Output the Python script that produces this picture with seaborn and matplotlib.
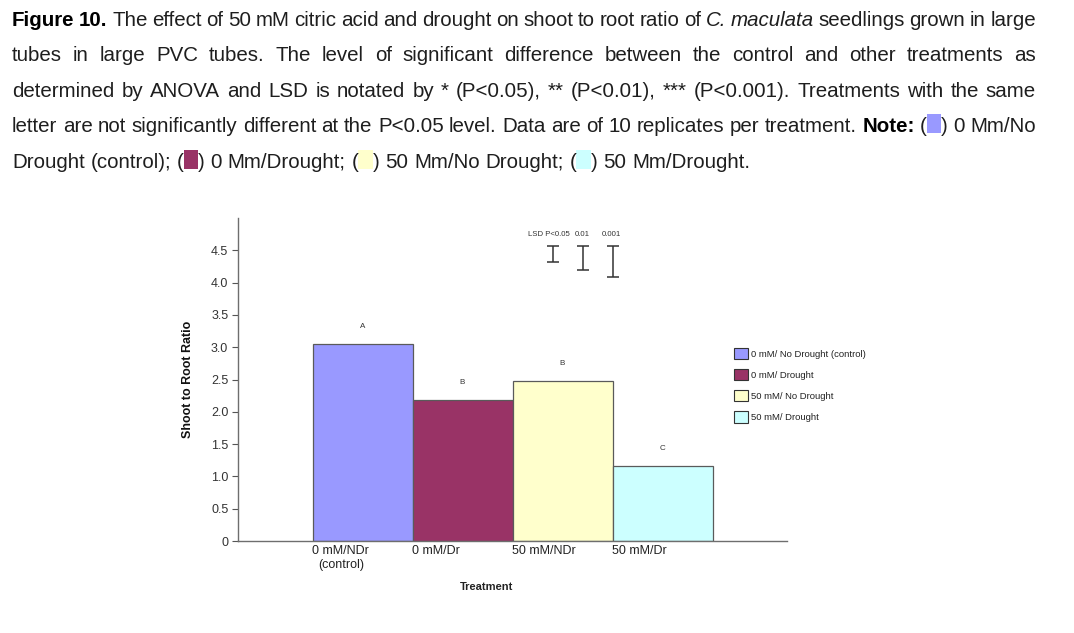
import matplotlib
matplotlib.use("Agg")
import matplotlib.pyplot as plt
import seaborn as sns
import pandas as pd
from matplotlib.patches import Patch, Rectangle
from matplotlib import font_manager

# ---------------- data ----------------
categories = ["0 mM/NDr\n(control)", "0 mM/Dr", "50 mM/NDr", "50 mM/Dr"]
ratios = [3.05, 2.19, 2.47, 1.16]
letters = ["A", "B", "B", "C"]
bar_colors = ["#9999FF", "#993366", "#FFFFCC", "#CCFFFF"]
legend_labels = ["0 mM/ No Drought (control)", "0 mM/ Drought",
                 "50 mM/ No Drought", "50 mM/ Drought"]
lsd_labels = ["LSD P<0.05", "0.01", "0.001"]
lsd_values = [0.25, 0.38, 0.48]
lsd_top = 4.57
y_ticks = [0, 0.5, 1.0, 1.5, 2.0, 2.5, 3.0, 3.5, 4.0, 4.5]
y_tick_labels = ["0", "0.5", "1.0", "1.5", "2.0", "2.5", "3.0", "3.5", "4.0", "4.5"]

W, H = 1074, 633
sns.set_theme(style="white")
plt.rcParams["font.family"] = ["Liberation Sans", "DejaVu Sans"]

fig = plt.figure(figsize=(W / 100, H / 100), dpi=100)
ax = fig.add_axes([238 / W, 1 - 541 / H, (787 - 238) / W, (541 - 218) / H])

df = pd.DataFrame({"Treatment": categories, "Ratio": ratios})
sns.barplot(data=df, x="Treatment", y="Ratio", hue="Treatment",
            palette=bar_colors, saturation=1, width=1.0, legend=False,
            edgecolor="#5a5a5a", linewidth=0.9, ax=ax)

ax.set_xlim(-1.245, 4.245)
ax.set_ylim(0, 5.0)
ax.set_yticks(y_ticks)
ax.set_yticklabels(y_tick_labels, fontsize=9, color="#333333")
ax.tick_params(axis="y", direction="out", length=4, width=0.8, color="#555555", pad=3, left=True)
ax.set_xticks([i - 0.5 for i in range(len(categories))])
ax.set_xticklabels(categories, fontsize=9, color="#222222", ha="left",
                   multialignment="center")
ax.tick_params(axis="x", length=0, pad=3)
for s in ["top", "right"]:
    ax.spines[s].set_visible(False)
for s in ["left", "bottom"]:
    ax.spines[s].set_color("#6e6e6e")
    ax.spines[s].set_linewidth(1.0)
ax.set_xlabel("")
ax.set_ylabel("Shoot to Root Ratio", fontsize=9, fontweight="bold", color="#111111", labelpad=12)
fig.text(487 / W, 1 - 587 / H, "Treatment", fontsize=8, fontweight="bold",
         ha="center", va="center", color="#222222")

# significance letters
for i, (v, l) in enumerate(zip(ratios, letters)):
    ax.text(i, v + 0.27, l, ha="center", va="center", fontsize=5.8, color="#333333")

# LSD bars
lsd_x = [1.9, 2.2, 2.5]
for x, v in zip(lsd_x, lsd_values):
    ax.errorbar([x], [lsd_top - v / 2], yerr=[v / 2], fmt="none", ecolor="#333333",
                elinewidth=1.1, capsize=4.5, capthick=1.1)
ax.text(2.075, 4.745, lsd_labels[0], ha="right", va="center", fontsize=5.6, color="#333333")
ax.text(2.2, 4.745, lsd_labels[1], ha="center", va="center", fontsize=5.6, color="#333333")
ax.text(2.485, 4.745, lsd_labels[2], ha="center", va="center", fontsize=5.6, color="#333333")

# legend
handles = [Patch(facecolor=c, edgecolor="#333333", linewidth=0.8) for c in bar_colors]
fig.legend(handles, legend_labels, loc="upper left",
           bbox_to_anchor=(734 / W, 1 - 348 / H), borderaxespad=0, borderpad=0,
           frameon=False, fontsize=6.8, handlelength=1.45, handleheight=1.45,
           labelspacing=1.05, handletextpad=0.35, labelcolor="#222222")

# ---------------- caption ----------------
avail = {f.name for f in font_manager.fontManager.ttflist}
cap_family = ["Liberation Sans Narrow", "DejaVu Sans"] if "Liberation Sans Narrow" in avail \
    else ["Liberation Sans", "DejaVu Sans"]
cap_color = "#1e1e1e"

lines = [
    [[("Figure", "b")], [("10.", "b")], "The effect of 50 mM citric acid and drought on shoot to root ratio of",
     [("C.", "i")], [("maculata", "i")], "seedlings grown in large"],
    ["tubes in large PVC tubes. The level of significant difference between the control and other treatments as"],
    ["determined by ANOVA and LSD is notated by * (P<0.05), ** (P<0.01), *** (P<0.001). Treatments with the same"],
    ["letter are not significantly different at the P<0.05 level. Data are of 10 replicates per treatment.",
     [("Note:", "b")], [("(", "n"), (bar_colors[0], "s"), (")", "n")], "0 Mm/No"],
    ["Drought (control);", [("(", "n"), (bar_colors[1], "s"), (")", "n")], "0 Mm/Drought;",
     [("(", "n"), (bar_colors[2], "s"), (")", "n")], "50 Mm/No Drought;",
     [("(", "n"), (bar_colors[3], "s"), (")", "n")], "50 Mm/Drought."],
]
baselines = [26, 61, 97, 132, 168]
justify = [True, True, True, True, False]


def expand(line):
    words = []
    for item in line:
        if isinstance(item, str):
            for w in item.split():
                words.append([(w, "n")])
        else:
            words.append(item)
    return words


fig.canvas.draw()
renderer = fig.canvas.get_renderer()


def style_kw(st, fs):
    kw = dict(fontsize=fs, family=cap_family, color=cap_color)
    if st == "b":
        kw["fontweight"] = "bold"
        kw["color"] = "#000000"
    if st == "i":
        kw["fontstyle"] = "italic"
    return kw


def measure(txt, st, fs):
    t = fig.text(0, 0, txt, **style_kw(st, fs))
    w = t.get_window_extent(renderer).width
    t.remove()
    return w


def piece_width(p, fs):
    txt, st = p
    if st == "s":
        return fs * 1.389 * 0.7
    return measure(txt, st, fs)


def natural_width(words, fs):
    sp = measure("a a", "n", fs) - measure("aa", "n", fs)
    return sum(sum(piece_width(p, fs) for p in w) for w in words) + sp * (len(words) - 1)


all_words = [expand(l) for l in lines]
fs = 12.0
nw = natural_width(all_words[-1], fs)
fs = fs * 740.0 / nw

space = measure("a a", "n", fs) - measure("aa", "n", fs)
for words, yb, just in zip(all_words, baselines, justify):
    widths = [[piece_width(p, fs) for p in w] for w in words]
    totals = [sum(w) for w in widths]
    gap = space
    if just and len(words) > 1:
        gap = (1036 - 12 - sum(totals)) / (len(words) - 1)
    x = 12.0
    for w, ws in zip(words, widths):
        for (txt, st), pw in zip(w, ws):
            if st == "s":
                hpx = fs * 1.389 * 0.95
                fig.patches.append(Rectangle((x / W, 1 - (yb + 1) / H), pw / W, hpx / H,
                                             transform=fig.transFigure, facecolor=txt,
                                             edgecolor="none", figure=fig))
            else:
                fig.text(x / W, 1 - yb / H, txt, va="baseline", ha="left", **style_kw(st, fs))
            x += pw
        x += gap

fig.savefig("out.png", dpi=100)
